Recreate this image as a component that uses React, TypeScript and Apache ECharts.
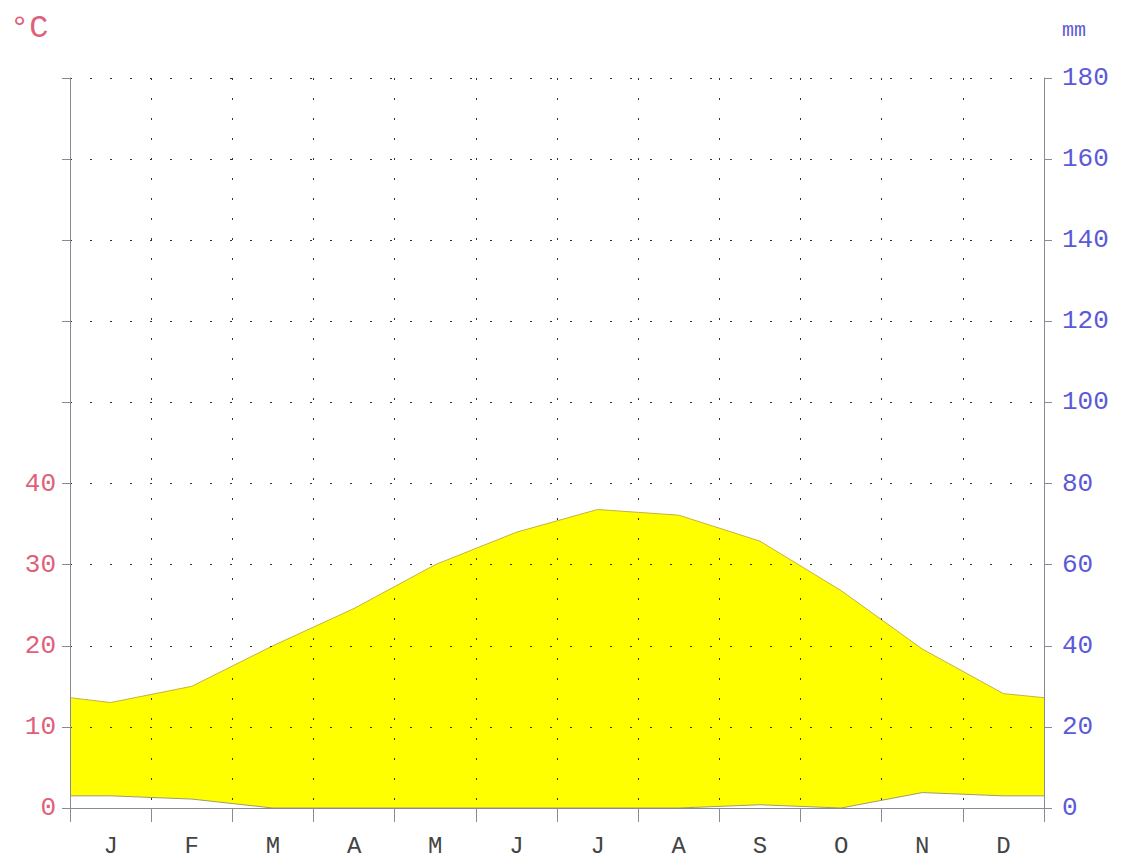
import React, { useEffect, useRef } from "react";
import * as echarts from "echarts";

const months = ["J", "F", "M", "A", "M", "J", "J", "A", "S", "O", "N", "D"];
// mean monthly temperature, °C
const temperature = [13.0, 15.0, 20.0, 24.6, 30.0, 34.0, 36.8, 36.1, 32.9, 26.8, 19.6, 14.1];
// monthly precipitation, mm
const precipitation = [3.0, 2.2, 0, 0, 0, 0, 0, 0, 0.8, 0, 3.8, 3.0];
// values read at the year boundary (left/right edges of the diagram)
const temperatureAtEdge = 13.6;
const precipitationAtEdge = 3.0;
const tempTicks = [0, 10, 20, 30, 40];

const MONO = "'Liberation Mono', 'Courier New', monospace";
const RED = "#e0607a";
const BLUE = "#5a5ad8";
const AXIS = "#8a8a96";

function buildLine(values: number[], edge: number): number[][] {
  const pts: number[][] = [[0, edge]];
  values.forEach((v, i) => pts.push([i + 0.5, v]));
  pts.push([12, edge]);
  return pts;
}

export default function App() {
  const ref = useRef<HTMLDivElement>(null);
  useEffect(() => {
    if (!ref.current) return;
    const chart = echarts.init(ref.current, null, { renderer: "svg" });
    const dotted = { color: "#333", width: 1, type: [2, 18] as any, dashOffset: 0 };
    chart.setOption({
      animation: false,
      backgroundColor: "#ffffff",
      grid: { left: 70, right: 82, top: 78, bottom: 56, containLabel: false },
      graphic: [
        { type: "text", left: 10, top: 12, style: { text: "°C", fill: RED, font: `32px ${MONO}` } },
        { type: "text", left: 1062, top: 20, style: { text: "mm", fill: BLUE, font: `20px ${MONO}` } },
      ],
      xAxis: [
        {
          type: "value",
          min: 0,
          max: 12,
          interval: 1,
          z: 10,
          axisLine: { show: true, onZero: false, lineStyle: { color: AXIS, width: 1 } },
          axisTick: { show: true, inside: false, length: 14, lineStyle: { color: AXIS } },
          axisLabel: { show: false },
          splitLine: { show: true, lineStyle: dotted },
        },
        {
          type: "category",
          data: months,
          boundaryGap: true,
          position: "bottom",
          z: 10,
          axisLine: { show: false },
          axisTick: { show: false },
          splitLine: { show: false },
          axisLabel: { show: true, margin: 26, color: "#444", fontFamily: MONO, fontSize: 24 },
        },
      ],
      yAxis: [
        {
          type: "value",
          min: 0,
          max: 90,
          interval: 10,
          position: "left",
          z: 10,
          axisLine: { show: true, onZero: false, lineStyle: { color: AXIS, width: 1 } },
          axisTick: { show: true, inside: false, length: 8, lineStyle: { color: AXIS } },
          axisLabel: {
            show: true,
            margin: 14,
            color: RED,
            fontFamily: MONO,
            fontSize: 26,
            formatter: (v: number) => (tempTicks.indexOf(v) >= 0 ? String(v) : ""),
          },
          splitLine: { show: true, lineStyle: dotted },
        },
        {
          type: "value",
          min: 0,
          max: 180,
          interval: 20,
          position: "right",
          z: 10,
          axisLine: { show: true, onZero: false, lineStyle: { color: AXIS, width: 1 } },
          axisTick: { show: true, inside: false, length: 8, lineStyle: { color: AXIS } },
          axisLabel: { show: true, margin: 18, color: BLUE, fontFamily: MONO, fontSize: 26 },
          splitLine: { show: false },
        },
      ],
      series: [
        {
          type: "line",
          name: "temperature",
          xAxisIndex: 0,
          yAxisIndex: 0,
          data: buildLine(temperature, temperatureAtEdge),
          showSymbol: false,
          symbol: "none",
          z: 2,
          lineStyle: { color: "#c8b040", width: 1 },
          areaStyle: { color: "#ffff00", opacity: 1 },
        },
        {
          type: "line",
          name: "precipitation",
          xAxisIndex: 0,
          yAxisIndex: 1,
          data: buildLine(precipitation, precipitationAtEdge),
          showSymbol: false,
          symbol: "none",
          z: 3,
          lineStyle: { color: "#a09870", width: 1 },
          areaStyle: { color: "#ffffff", opacity: 1 },
        },
      ],
    });
    return () => chart.dispose();
  }, []);
  return (
    <div
      ref={ref}
      style={{ position: "fixed", left: 0, top: 0, width: 1126, height: 864, background: "#fff" }}
    />
  );
}
